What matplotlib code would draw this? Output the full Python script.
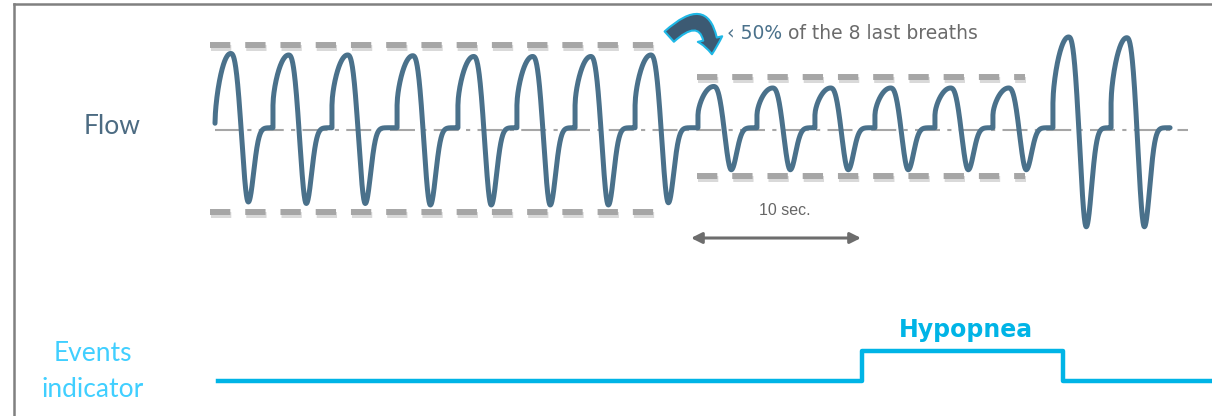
import numpy as np
import matplotlib
matplotlib.use("Agg")
import matplotlib.pyplot as plt
from matplotlib.lines import Line2D
from matplotlib.patches import FancyArrowPatch
import matplotlib.patheffects as pe

# breath onsets (s), inspiratory peaks and expiratory troughs (arbitrary flow units)
onsets = [0.0, 3.41, 6.88, 10.71, 14.29, 17.76, 21.18, 24.71,
          28.41, 31.88, 35.29, 38.82, 42.35, 45.76,
          49.29, 52.71]
peaks = [1.02, 1.00, 1.00, 0.99, 0.98, 0.98, 0.98, 1.00,
         0.58, 0.56, 0.56, 0.56, 0.56, 0.56,
         1.24, 1.23]
troughs = [-0.96, -0.98, -0.98, -1.00, -1.00, -1.00, -1.00, -0.97,
           -0.53, -0.53, -0.53, -0.53, -0.53, -0.53,
           -1.29, -1.29]
# flow level right after each inspiration onset
steps = [0.09, 0.33, 0.33, 0.33, 0.33, 0.33, 0.33, 0.33,
         0.20, 0.20, 0.20, 0.20, 0.20, 0.20,
         0.36, 0.36]
trace_end = 56.18

# reference amplitude bands (dashed) : (start, end, upper, lower)
normal_band = (-0.29, 26.65, 1.13, -1.09)
reduced_band = (28.35, 47.65, 0.71, -0.61)

# events channel
event_t = [0.18, 38.06, 38.06, 49.88, 49.88, 58.65]
event_v = [0, 0, 1, 1, 0, 0]

# breath template timing (s)
T_PEAK, T_TROUGH, TAU, PLAT = 0.92, 1.96, 0.44, 0.03


def breath(u, pk, tr, st):
    y = np.zeros_like(u)
    r = u < T_PEAK
    y[r] = st + (pk - st) * np.sin(np.pi / 2 * u[r] / T_PEAK) ** 0.6
    f = (u >= T_PEAK) & (u < T_TROUGH)
    mid, amp = (pk + tr) / 2, (pk - tr) / 2
    ph = ((u[f] - T_PEAK) / (T_TROUGH - T_PEAK)) ** 1.3
    y[f] = mid + amp * np.cos(np.pi * ph)
    e = u >= T_TROUGH
    g = np.exp(-((u[e] - T_TROUGH) / TAU) ** 2)
    y[e] = tr * g + PLAT * (1 - g)
    return y


ts, ys = [], []
ends = onsets[1:] + [trace_end]
for t0, t1, pk, tr, st in zip(onsets, ends, peaks, troughs, steps):
    u = np.linspace(0, t1 - t0, 300)
    ts.append(t0 + u)
    ys.append(breath(u, pk, tr, st))
t = np.concatenate(ts)
y = np.concatenate(ys)

FLOW = "#4a718b"
GREY = "#a6a6a6"
CYAN = "#00b4e6"

fig = plt.figure(figsize=(12.12, 4.16), dpi=100)
ax = fig.add_axes([0, 0, 1, 1])
ax.set_xlim(-12.647, 58.647)
ax.set_ylim(-3.813, 1.733)
ax.axis("off")

ax2 = fig.add_axes([0, 0, 1, 1], sharex=ax)
ax2.set_ylim(-1.167, 12.7)
ax2.axis("off")

# baseline
ax.plot([0, 57.24], [0, 0], color=GREY, lw=1.5, dashes=(12, 3.5, 2, 3.5))

# dashed amplitude bands
shadow = [pe.SimpleLineShadow(offset=(1, -2), shadow_color="k", alpha=0.15), pe.Normal()]
for x0, x1, up, lo in [normal_band, reduced_band]:
    for lev in (up, lo):
        ax.plot([x0, x1], [lev, lev], color=GREY, lw=4.3, dashes=(3.4, 2.5),
                solid_capstyle="butt", dash_capstyle="butt", path_effects=shadow)

# flow trace
ax.plot(t, y, color=FLOW, lw=3.6, solid_capstyle="round", solid_joinstyle="round")

# 10 sec scale
ax.annotate("", xy=(28.0, -1.44), xytext=(38.0, -1.44),
            arrowprops=dict(arrowstyle="<|-|>", color="#6d6d6d", lw=2.2,
                            mutation_scale=16, shrinkA=0, shrinkB=0))
ax.text(33.5, -1.07, "10 sec.", ha="center", va="center", fontsize=11.5,
        color="#666666", family="Liberation Sans")

# curved arrow + caption
arr = FancyArrowPatch((26.6, 1.22), (29.24, 0.973),
                      connectionstyle="arc3,rad=-1.1",
                      arrowstyle="simple,head_length=1.1,head_width=1.8,tail_width=1.0",
                      mutation_scale=10, facecolor="#3c5a73", edgecolor="#1fb8e6", lw=1.5)
ax.add_patch(arr)
t1 = ax.text(30.12, 1.293, "\u2039 50%", ha="left", va="center", fontsize=13.5,
             color="#4a718b")
ax.annotate(" of the 8 last breaths", xy=(1, 0), xycoords=t1, va="bottom",
            fontsize=13.5, color="#6b6b6b")

# labels
ax.text(-6.06, 0.04, "Flow", ha="center", va="center", fontsize=19,
        color="#4c6b82", family="Lato")
ax2.text(-7.18, 0.3, "Events\nindicator", ha="center", va="center", fontsize=19,
         color="#40cfff", family="Lato", linespacing=1.55)

# events line
ax2.plot(event_t, event_v, color=CYAN, lw=3.2, solid_joinstyle="round")
ax2.text(44.18, 1.7, "Hypopnea", ha="center", va="center", fontsize=17,
         fontweight="bold", color=CYAN)

# frame (left and top edges)
fig.add_artist(Line2D([14 / 1212, 14 / 1212], [0, 1 - 4 / 416], color="#808080", lw=1.8))
fig.add_artist(Line2D([14 / 1212, 1], [1 - 4 / 416, 1 - 4 / 416], color="#808080", lw=1.8))

fig.savefig("out.png", dpi=100)
